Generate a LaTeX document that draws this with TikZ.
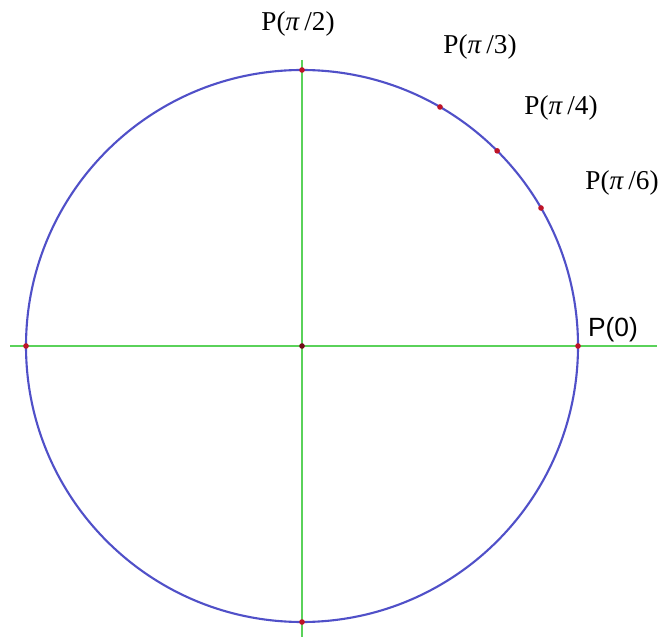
\documentclass[tikz,border=0pt]{standalone}
\usepackage{fontspec}
\setmainfont{Liberation Serif}
\setsansfont{Liberation Sans}
\usetikzlibrary{positioning, calc}
\definecolor{circcol}{RGB}{80, 80, 200}
\definecolor{axiscol}{RGB}{90, 210, 90}
\definecolor{dotcol}{RGB}{190, 20, 40}
\tikzset{
  axis/.style={draw=axiscol, line width=1.2pt},
  dot/.style={circle, fill=dotcol, inner sep=0pt, minimum size=3.2pt},
  plabel/.style={font=\fontsize{15.5}{18}\selectfont, inner sep=0pt},
}
\newcommand{\plab}[1]{P(\textit{π}\,/#1)}

\begin{document}
\begin{tikzpicture}[x=0.02cm, y=-0.02cm]
  \useasboundingbox (0,0) rectangle (662,641);
  % --- axes ---
  \coordinate (O) at (302,346);
  \coordinate (xl) at (10,346);
  \coordinate (xr) at (657,346);
  \coordinate (yt) at (302,60);
  \coordinate (yb) at (302,637);
  \draw[axis] (xl) -- (xr);
  \draw[axis] (yt) -- (yb);

  % --- unit circle ---
  \draw[circcol, line width=1.2pt] (O) circle[radius=276];

  % --- points on the circle (y runs downward) ---
  \foreach \ang/\nm in {0/p0, 30/p6, 45/p4, 60/p3, 90/p2, 180/pl, 270/pb}
    \node[dot] (\nm) at ($(O)+(-\ang:276)$) {};
  \node[dot, fill=dotcol!60!black] (pc) at (O) {};

  % --- labels ---
  \node[plabel] (l2) at (298,24) {\plab{2}};
  \node[plabel] (l3) at (480,47) {\plab{3}};
  \node[plabel] (l4) at (561,108) {\plab{4}};
  \node[plabel] (l6) at (622,183) {\plab{6}};
  \node[plabel, font=\sffamily\fontsize{15}{18}\selectfont] (l0) at (613,330) {P(0)};
\end{tikzpicture}
\end{document}
